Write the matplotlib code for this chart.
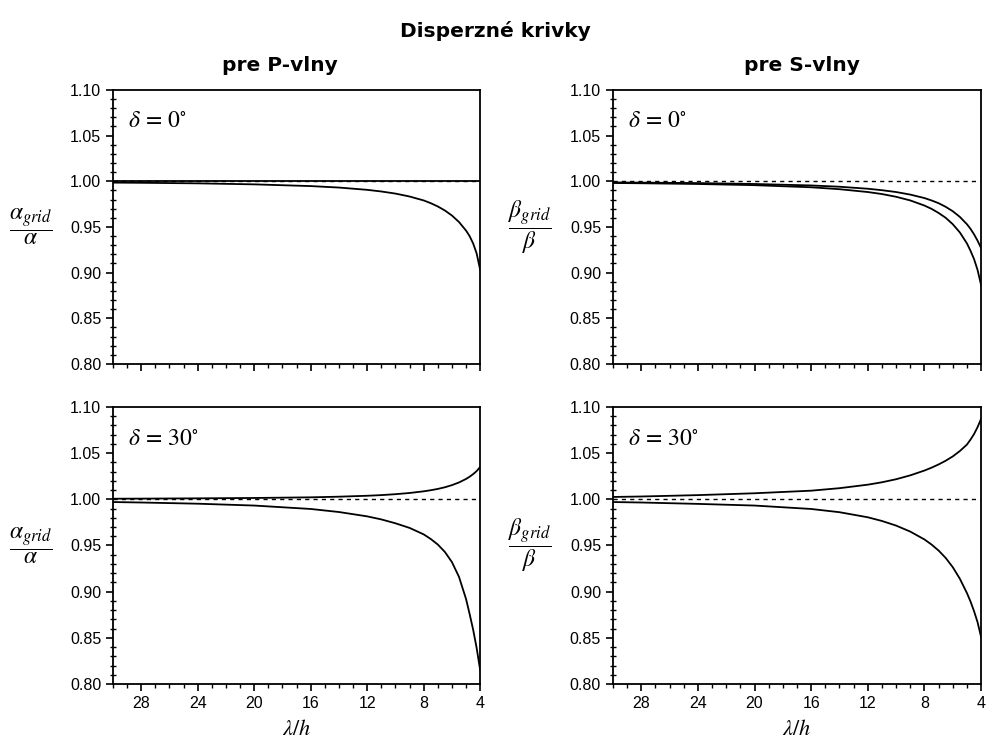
import matplotlib
matplotlib.use("Agg")
import matplotlib.pyplot as plt
from matplotlib.ticker import MultipleLocator, FormatStrFormatter

plt.rcParams['mathtext.fontset'] = 'stix'
plt.rcParams['font.family'] = ['Liberation Sans', 'DejaVu Sans']

# lambda/h values at which the curves were read
lam = [30, 28, 24, 20, 16, 14, 12, 11, 10, 9, 8, 7.5, 7, 6.5, 6, 5.5, 5, 4.75, 4.5, 4.25, 4]

# P-waves, delta = 0
p0_a = [1.000] * len(lam)
p0_b = [0.9985, 0.9983, 0.9977, 0.9966, 0.9947, 0.9931, 0.9906, 0.9888, 0.9865, 0.9833, 0.979,
        0.976, 0.9724, 0.968, 0.9625, 0.9554, 0.946, 0.940, 0.932, 0.921, 0.903]
# S-waves, delta = 0
s0_a = [0.9987, 0.9985, 0.998, 0.997, 0.9954, 0.994, 0.9918, 0.9902, 0.9882, 0.9854, 0.9816,
        0.979, 0.976, 0.972, 0.9672, 0.961, 0.953, 0.948, 0.942, 0.935, 0.927]
s0_b = [0.9981, 0.9978, 0.997, 0.9957, 0.9934, 0.9913, 0.9882, 0.986, 0.983, 0.979, 0.9734,
        0.9698, 0.9653, 0.960, 0.953, 0.944, 0.932, 0.924, 0.915, 0.903, 0.8865]
# P-waves, delta = 30
p30_a = [1.0006, 1.0007, 1.001, 1.0014, 1.0021, 1.0028, 1.0038, 1.0045, 1.0055, 1.0068, 1.0086,
         1.0098, 1.0112, 1.013, 1.0153, 1.0182, 1.022, 1.0244, 1.0272, 1.0305, 1.035]
p30_b = [0.997, 0.9965, 0.9952, 0.9932, 0.9895, 0.9862, 0.9815, 0.9782, 0.974, 0.969, 0.962,
         0.957, 0.951, 0.943, 0.932, 0.916, 0.892, 0.876, 0.859, 0.839, 0.815]
# S-waves, delta = 30
s30_a = [1.0025, 1.003, 1.0045, 1.0065, 1.0093, 1.012, 1.0158, 1.0184, 1.0217, 1.0259, 1.0311,
         1.0342, 1.0377, 1.0417, 1.0464, 1.0522, 1.0592, 1.0645, 1.0705, 1.078, 1.087]
s30_b = [0.997, 0.9965, 0.995, 0.9932, 0.9895, 0.986, 0.9805, 0.9765, 0.9715, 0.965, 0.9565,
         0.951, 0.9445, 0.9365, 0.9265, 0.914, 0.8985, 0.8895, 0.879, 0.867, 0.851]

panels = [
    (p0_a, p0_b, r'$\delta\,=\,0^{\circ}$', r'$\dfrac{\alpha_{grid}}{\alpha}$'),
    (s0_a, s0_b, r'$\delta\,=\,0^{\circ}$', r'$\dfrac{\beta_{grid}}{\beta}$'),
    (p30_a, p30_b, r'$\delta\,=\,30^{\circ}$', r'$\dfrac{\alpha_{grid}}{\alpha}$'),
    (s30_a, s30_b, r'$\delta\,=\,30^{\circ}$', r'$\dfrac{\beta_{grid}}{\beta}$'),
]

fig = plt.figure(figsize=(9.87, 7.47), dpi=100)
rects = [
    [0.1145, 0.5127, 0.372, 0.367],
    [0.621, 0.5127, 0.373, 0.367],
    [0.1145, 0.0843, 0.372, 0.371],
    [0.621, 0.0843, 0.373, 0.371],
]

for i, (rect, (ya, yb, dlabel, ylab)) in enumerate(zip(rects, panels)):
    ax = fig.add_axes(rect)
    ax.axhline(1.0, color='black', lw=1.0, dashes=(3, 3))
    ax.plot(lam, ya, color='black', lw=1.3)
    ax.plot(lam, yb, color='black', lw=1.3)
    ax.set_xlim(30, 4)
    ax.set_ylim(0.80, 1.10)
    ax.xaxis.set_major_locator(MultipleLocator(4))
    ax.xaxis.set_minor_locator(MultipleLocator(1))
    ax.yaxis.set_major_locator(MultipleLocator(0.05))
    ax.yaxis.set_minor_locator(MultipleLocator(0.01))
    ax.yaxis.set_major_formatter(FormatStrFormatter('%.2f'))
    ax.tick_params(axis='both', which='major', direction='out', length=5, width=1.2,
                   labelsize=11.5)
    ax.tick_params(axis='x', which='minor', direction='out', length=3, width=1)
    ax.tick_params(axis='y', which='minor', direction='inout', length=4, width=1)
    for sp in ax.spines.values():
        sp.set_linewidth(1.3)
    ax.text(0.04, 0.885, dlabel, transform=ax.transAxes, fontsize=17,
            ha='left', va='center')
    ax.set_ylabel(ylab, rotation=0, fontsize=17, ha='center', va='center')
    ax.yaxis.set_label_coords(-0.225, 0.5)
    if i < 2:
        ax.tick_params(axis='x', labelbottom=False)
    else:
        ax.set_xlabel(r'$\lambda/h$', fontsize=16, labelpad=6)

fig.text(0.5015, 0.958, 'Disperzné krivky', ha='center', va='center',
         fontsize=14.5, fontweight='bold', family='DejaVu Sans')
fig.text(0.284, 0.912, 'pre P-vlny', ha='center', va='center',
         fontsize=14.5, fontweight='bold', family='DejaVu Sans')
fig.text(0.812, 0.912, 'pre S-vlny', ha='center', va='center',
         fontsize=14.5, fontweight='bold', family='DejaVu Sans')

fig.savefig('out.png', dpi=100)
